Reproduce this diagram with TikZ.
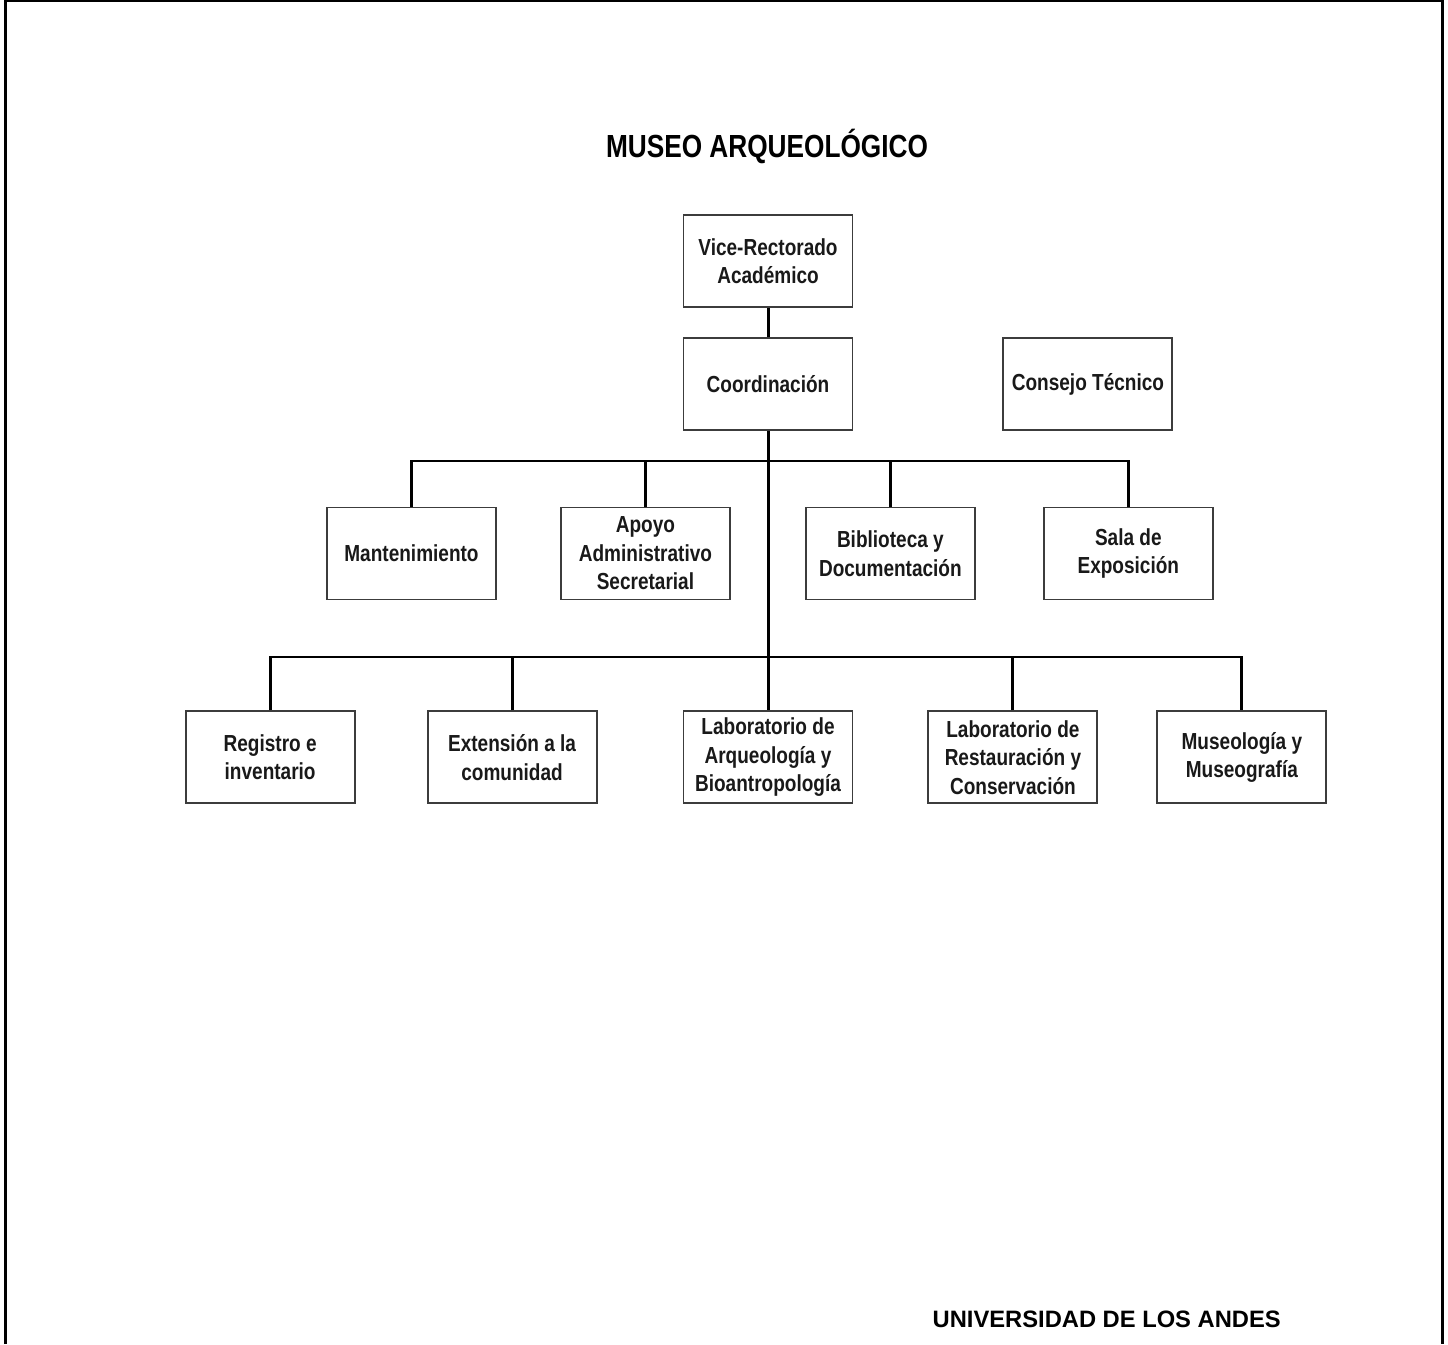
\documentclass[tikz,border=0pt]{standalone}
\usepackage{fontspec}
\setmainfont{Liberation Sans}[FakeStretch=0.82]
\newfontfamily\widesans{Liberation Sans}
\usepackage{xcolor}
\definecolor{boxline}{RGB}{60,60,60}
\definecolor{txtgray}{RGB}{25,25,25}
\usepackage{tikz}
\usetikzlibrary{positioning,calc}

\begin{document}
\begin{tikzpicture}[
  node distance=0.58cm and 1.3cm,
  box/.style={rectangle, draw=boxline, line width=1.1pt, fill=white,
              minimum width=3.38cm, minimum height=1.84cm, inner sep=1pt,
              align=center, text=txtgray,
              font=\fontsize{13.2}{16.2}\selectfont\bfseries},
  conn/.style={line width=1.7pt, black}
]
  \useasboundingbox (0,0) rectangle (28.96,-26.88);
  % frame
  \draw[line width=1.7pt] (0.11,-26.88) -- (0.11,-0.015) -- (28.84,-0.015) -- (28.84,-26.88);
  \draw[line width=0.9pt] (0.11,-0.015) -- (28.84,-0.015);

  \node[anchor=base, font=\fontsize{18.2}{22}\selectfont\bfseries] (title) at (15.34,-3.15) {MUSEO ARQUEOLÓGICO};

  % top
  \node[box] (vice) at (15.36,-5.22) {Vice-Rectorado\\Académico};
  \node[box, below=of vice] (coord) {Coordinación};
  \node[box, right=2.98cm of coord] (consejo) {Consejo Técnico};

  % second row
  \node[box] (mant) at (8.23,-11.07) {Mantenimiento};
  \node[box, right=1.26cm of mant] (apoyo) {Apoyo\\Administrativo\\Secretarial};
  \node[box, right=1.48cm of apoyo] (biblio) {Biblioteca y\\Documentación};
  \node[box, right=1.34cm of biblio] (sala) {Sala de\\Exposición};

  % third row
  \node[box, below=5.59cm of coord] (labarq) {Laboratorio de\\Arqueología y\\Bioantropología};
  \node[box, left=1.7cm of labarq] (ext) {Extensión a la\\comunidad};
  \node[box, left=1.42cm of ext] (reg) {Registro e\\inventario};
  \node[box, right=1.48cm of labarq] (labres) {Laboratorio de\\Restauración y\\Conservación};
  \node[box, right=1.16cm of labres] (museo) {Museología y\\Museografía};

  \coordinate (busa) at (0,-9.22);
  \coordinate (busb) at (0,-13.14);

  \draw[conn] (vice) -- (coord);
  \draw[conn] (coord) -- (labarq);
  \draw[conn] (mant.north) -- (mant.north |- busa) -- (sala.north |- busa) -- (sala.north);
  \draw[conn] (apoyo.north) -- (apoyo.north |- busa);
  \draw[conn] (biblio.north) -- (biblio.north |- busa);
  \draw[conn] (reg.north) -- (reg.north |- busb) -- (museo.north |- busb) -- (museo.north);
  \draw[conn] (ext.north) -- (ext.north |- busb);
  \draw[conn] (labres.north) -- (labres.north |- busb);

  \node[anchor=base west, font=\widesans\fontsize{13.5}{16}\selectfont\bfseries] (univ) at (18.53,-26.54) {UNIVERSIDAD DE LOS ANDES};
\end{tikzpicture}
\end{document}
